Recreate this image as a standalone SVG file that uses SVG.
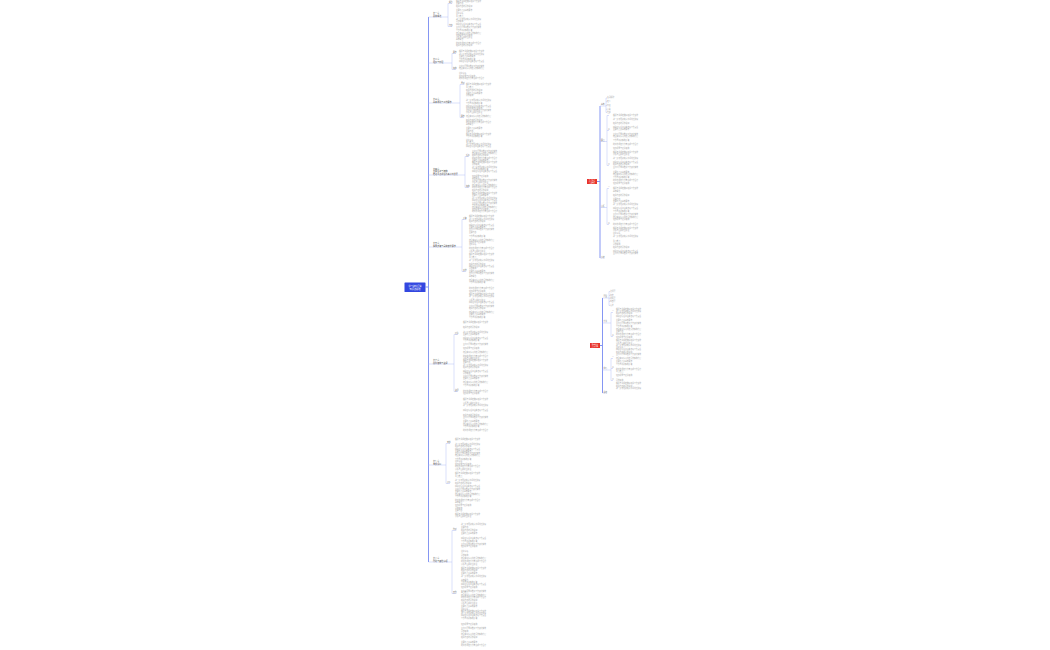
<svg xmlns="http://www.w3.org/2000/svg" width="1050" height="650" viewBox="0 0 1050 650">
<style>
text{font-family:"Noto Sans CJK SC","Liberation Sans",sans-serif}
.l{font-size:1.8px;fill:#a6a6a6}
.s{font-size:1.8px;fill:#777}
.h{font-size:2.1px;fill:#555}
.w{font-size:1.9px;fill:#fff}
.c{stroke:#b6c0f7;stroke-width:.5;fill:none}
.sp{stroke:#8596f3;stroke-width:1;fill:none}
</style>
<rect width="1050" height="650" fill="#fff"/>
<g id="connectors">
<path class="sp" d="M425.5 287H428.5M428.5 17V562"/>
<path class="c" d="M428.5 17H448M448 3.5V26.5M448 3.5H452M448 26.5H452"/>
<path class="c" d="M428.5 63H452M452 53.5V69.5M452 53.5H456M452 69.5H456"/>
<path class="c" d="M428.5 103H460M460 84.5V117.5M460 84.5H464M460 117.5H464"/>
<path class="c" d="M428.5 175H465M465 156.5V187.5M465 156.5H469M465 187.5H469"/>
<path class="c" d="M428.5 247H462M462 219.5V271.5M462 219.5H466M462 271.5H466"/>
<path class="c" d="M428.5 364H454M454 334.5V391.5M454 334.5H458M454 391.5H458"/>
<path class="c" d="M428.5 465H446M446 443.5V483.5M446 443.5H450M446 483.5H450"/>
<path class="c" d="M428.5 562H452M452 530.5V593.5M452 530.5H456M452 593.5H456"/>
<path class="sp" d="M597 181.5H600M600 106V258"/>
<path class="c" d="M600 106H606M606 98V112.5M606 98H607M606 101.8H607M606 105.5H607M606 109.3H607M606 112.5H607"/>
<path class="c" d="M600 141.5H607M607 115.5V165.5M607 115.5H609M607 130.5H609M607 165.5H609"/>
<path class="c" d="M600 207.5H607M607 188.5V224.5M607 188.5H609M607 224.5H609"/>
<path class="c" d="M600 258H604"/>
<path class="sp" d="M600 345.5H602.5M602.5 298V393"/>
<path class="c" d="M602.5 298H609M609 291.5V305.5M609 291.5H610M609 295.5H610M609 298.2H610M609 301.5H610M609 305.5H610"/>
<path class="c" d="M602.5 323H611M611 312.5V336.5M611 312.5H613M611 336.5H613"/>
<path class="c" d="M602.5 370H611M611 358.5V380.5M611 358.5H613M611 368.5H613M611 380.5H613"/>
<path class="c" d="M602.5 393H607"/>
</g>
<g id="root">
<rect x="404.5" y="282.5" width="21" height="9.5" rx=".6" fill="#3347e0"/>
<text class="w" x="415" y="286.7" text-anchor="middle" style="font-size:2.2px">学习资料汇编</text>
<text class="w" x="415" y="289.9" text-anchor="middle" style="font-size:2.2px">知识点总结</text>
</g>
<g id="n1">
<text class="h" x="433" y="14.2">第一章</text><text class="h" x="433" y="16.6">总体概述</text>
<text class="s" x="449" y="3">概念</text><text class="s" x="449" y="26">内容</text>
<text class="l" x="456" y="2">根据有关规定做好相关工作安排</text>
<text class="l" x="456" y="3.9">主要内容</text>
<text class="l" x="456" y="7.4">相关内容的具体说明</text>
<text class="l" x="456" y="11.4">主要特点及基本要求</text>
<text class="l" x="456" y="14">注意事项</text>
<text class="l" x="456" y="16.7">重点难点</text>
<text class="l" x="456" y="19.9">进一步加强和完善管理制度建设</text>
<text class="l" x="456" y="21.8">具体措施</text>
<text class="l" x="456" y="25">明确目标任务落实各项工作责任</text>
<text class="l" x="456" y="28">坚持问题导向推动工作取得实效</text>
<text class="l" x="456" y="31">工作原则和实施步骤</text>
<text class="l" x="456" y="33.7">结合实际情况制定具体实施方案</text>
<text class="l" x="456" y="35.7">组织领导与保障措施</text>
<text class="l" x="456" y="37.7">分析原因并提出建议</text>
<text class="l" x="456" y="39.7">基本概念</text>
<text class="l" x="456" y="44.4">统筹协调各方力量形成工作合力</text>
<text class="l" x="456" y="46.2">相关内容的具体说明</text>
</g>
<g id="n2">
<text class="h" x="433" y="60.2">第二章</text><text class="h" x="433" y="62.6">组织与管理</text>
<text class="s" x="453" y="53">要求</text><text class="s" x="453" y="69">措施</text>
<text class="l" x="459" y="51.7">根据有关规定做好相关工作安排</text>
<text class="l" x="459" y="55">进一步加强和完善管理制度建设</text>
<text class="l" x="459" y="56.9">主要特点及基本要求</text>
<text class="l" x="459" y="59.7">工作原则和实施步骤</text>
<text class="l" x="459" y="62">明确目标任务落实各项工作责任</text>
<text class="l" x="459" y="66.7">坚持问题导向推动工作取得实效</text>
<text class="l" x="459" y="69">结合实际情况制定具体实施方案</text>
<text class="l" x="459" y="74">注意事项</text>
<text class="l" x="459" y="77.4">组织领导与保障措施</text>
<text class="l" x="459" y="79.4">统筹协调各方力量形成工作合力</text>
</g>
<g id="n3">
<text class="h" x="433" y="100.2">第三章</text><text class="h" x="433" y="102.6">基本原则与工作要求</text>
<text class="s" x="461" y="84">原则</text><text class="s" x="461" y="117">要求</text>
<text class="l" x="466" y="85">根据有关规定做好相关工作安排</text>
<text class="l" x="466" y="88">重点难点</text>
<text class="l" x="466" y="90.7">相关内容的具体说明</text>
<text class="l" x="466" y="93.7">主要特点及基本要求</text>
<text class="l" x="466" y="95.7">具体措施</text>
<text class="l" x="466" y="100.7">进一步加强和完善管理制度建设</text>
<text class="l" x="466" y="104.4">工作原则和实施步骤</text>
<text class="l" x="466" y="106.7">明确目标任务落实各项工作责任</text>
<text class="l" x="466" y="108.6">组织领导与保障措施</text>
<text class="l" x="466" y="111.4">坚持问题导向推动工作取得实效</text>
<text class="l" x="466" y="113.3">分析原因并提出建议</text>
<text class="l" x="466" y="116.7">结合实际情况制定具体实施方案</text>
<text class="l" x="466" y="120.7">相关内容的具体说明</text>
<text class="l" x="466" y="122.6">统筹协调各方力量形成工作合力</text>
<text class="l" x="466" y="124.7">基本概念</text>
<text class="l" x="466" y="129">主要特点及基本要求</text>
<text class="l" x="466" y="131.7">主要内容</text>
<text class="l" x="466" y="134.7">根据有关规定做好相关工作安排</text>
<text class="l" x="466" y="136.6">工作原则和实施步骤</text>
<text class="l" x="466" y="141.4">注意事项</text>
<text class="l" x="466" y="143.2">重点难点</text>
<text class="l" x="466" y="145">进一步加强和完善管理制度建设</text>
<text class="l" x="466" y="146.8">明确目标任务落实各项工作责任</text>
</g>
<g id="n4">
<text class="h" x="433" y="169.8">第四章</text><text class="h" x="433" y="172.2">主要任务与措施</text><text class="h" x="433" y="174.6">推进重点领域改革创新发展</text>
<text class="s" x="466" y="156">任务</text><text class="s" x="466" y="187">措施</text>
<text class="l" x="472" y="152.4">坚持问题导向推动工作取得实效</text>
<text class="l" x="472" y="154.2">结合实际情况制定具体实施方案</text>
<text class="l" x="472" y="156">相关内容的具体说明</text>
<text class="l" x="472" y="159">统筹协调各方力量形成工作合力</text>
<text class="l" x="472" y="160.8">主要特点及基本要求</text>
<text class="l" x="472" y="163.4">根据有关规定做好相关工作安排</text>
<text class="l" x="472" y="165.2">具体措施</text>
<text class="l" x="472" y="168">进一步加强和完善管理制度建设</text>
<text class="l" x="472" y="169.8">工作原则和实施步骤</text>
<text class="l" x="472" y="172.4">明确目标任务落实各项工作责任</text>
<text class="l" x="472" y="177.4">组织领导与保障措施</text>
<text class="l" x="472" y="179.2">基本概念</text>
<text class="l" x="472" y="181.4">坚持问题导向推动工作取得实效</text>
<text class="l" x="472" y="183.2">分析原因并提出建议</text>
<text class="l" x="472" y="186">结合实际情况制定具体实施方案</text>
<text class="l" x="472" y="188">统筹协调各方力量形成工作合力</text>
<text class="l" x="472" y="191.4">相关内容的具体说明</text>
<text class="l" x="472" y="194">根据有关规定做好相关工作安排</text>
<text class="l" x="472" y="195.8">主要特点及基本要求</text>
<text class="l" x="472" y="199.4">进一步加强和完善管理制度建设</text>
<text class="l" x="472" y="201.2">明确目标任务落实各项工作责任</text>
<text class="l" x="472" y="204">坚持问题导向推动工作取得实效</text>
<text class="l" x="472" y="205.8">工作原则和实施步骤</text>
<text class="l" x="472" y="208">结合实际情况制定具体实施方案</text>
<text class="l" x="472" y="209.8">组织领导与保障措施</text>
<text class="l" x="472" y="212.4">统筹协调各方力量形成工作合力</text>
</g>
<g id="n5">
<text class="h" x="433" y="244.2">第五章</text><text class="h" x="433" y="246.6">实施步骤与具体安排要求</text>
<text class="s" x="463" y="219">步骤</text><text class="s" x="463" y="271">安排</text>
<text class="l" x="469" y="217.4">根据有关规定做好相关工作安排</text>
<text class="l" x="469" y="219.7">进一步加强和完善管理制度建设</text>
<text class="l" x="469" y="221.6">相关内容的具体说明</text>
<text class="l" x="469" y="225.7">明确目标任务落实各项工作责任</text>
<text class="l" x="469" y="227.5">主要特点及基本要求</text>
<text class="l" x="469" y="230">坚持问题导向推动工作取得实效</text>
<text class="l" x="469" y="233.4">主要内容</text>
<text class="l" x="469" y="237.4">工作原则和实施步骤</text>
<text class="l" x="469" y="241.4">结合实际情况制定具体实施方案</text>
<text class="l" x="469" y="243.2">组织领导与保障措施</text>
<text class="l" x="469" y="245.4">注意事项</text>
<text class="l" x="469" y="249">统筹协调各方力量形成工作合力</text>
<text class="l" x="469" y="252">分析原因并提出建议</text>
<text class="l" x="469" y="255">根据有关规定做好相关工作安排</text>
<text class="l" x="469" y="258">重点难点</text>
<text class="l" x="469" y="260.7">进一步加强和完善管理制度建设</text>
<text class="l" x="469" y="264.7">相关内容的具体说明</text>
<text class="l" x="469" y="267.4">明确目标任务落实各项工作责任</text>
<text class="l" x="469" y="269.4">具体措施</text>
<text class="l" x="469" y="271.7">主要特点及基本要求</text>
<text class="l" x="469" y="274">坚持问题导向推动工作取得实效</text>
<text class="l" x="469" y="277.4">基本概念</text>
<text class="l" x="469" y="281.4">结合实际情况制定具体实施方案</text>
<text class="l" x="469" y="283.2">工作原则和实施步骤</text>
<text class="l" x="469" y="288.7">统筹协调各方力量形成工作合力</text>
<text class="l" x="469" y="291.7">组织领导与保障措施</text>
<text class="l" x="469" y="295.4">根据有关规定做好相关工作安排</text>
<text class="l" x="469" y="297.2">进一步加强和完善管理制度建设</text>
<text class="l" x="469" y="300.7">分析原因并提出建议</text>
<text class="l" x="469" y="302.7">明确目标任务落实各项工作责任</text>
<text class="l" x="469" y="307.4">坚持问题导向推动工作取得实效</text>
<text class="l" x="469" y="309.2">相关内容的具体说明</text>
<text class="l" x="469" y="312.7">结合实际情况制定具体实施方案</text>
<text class="l" x="469" y="315">主要特点及基本要求</text>
<text class="l" x="469" y="317.7">工作原则和实施步骤</text>
</g>
<g id="n6">
<text class="h" x="433" y="361.2">第六章</text><text class="h" x="433" y="363.6">保障措施与监督</text>
<text class="s" x="455" y="334">保障</text><text class="s" x="455" y="391">监督</text>
<text class="l" x="463" y="323">根据有关规定做好相关工作安排</text>
<text class="l" x="463" y="328">相关内容的具体说明</text>
<text class="l" x="463" y="333">进一步加强和完善管理制度建设</text>
<text class="l" x="463" y="335">主要特点及基本要求</text>
<text class="l" x="463" y="339">明确目标任务落实各项工作责任</text>
<text class="l" x="463" y="340.8">工作原则和实施步骤</text>
<text class="l" x="463" y="345">坚持问题导向推动工作取得实效</text>
<text class="l" x="463" y="349">组织领导与保障措施</text>
<text class="l" x="463" y="353.4">结合实际情况制定具体实施方案</text>
<text class="l" x="463" y="357.4">统筹协调各方力量形成工作合力</text>
<text class="l" x="463" y="359.2">分析原因并提出建议</text>
<text class="l" x="463" y="361.4">根据有关规定做好相关工作安排</text>
<text class="l" x="463" y="363.2">主要内容</text>
<text class="l" x="463" y="366.4">进一步加强和完善管理制度建设</text>
<text class="l" x="463" y="368.2">相关内容的具体说明</text>
<text class="l" x="463" y="371.7">明确目标任务落实各项工作责任</text>
<text class="l" x="463" y="373.5">具体措施</text>
<text class="l" x="463" y="377.4">坚持问题导向推动工作取得实效</text>
<text class="l" x="463" y="379.2">主要特点及基本要求</text>
<text class="l" x="463" y="383.4">结合实际情况制定具体实施方案</text>
<text class="l" x="463" y="386.4">工作原则和实施步骤</text>
<text class="l" x="463" y="391.7">统筹协调各方力量形成工作合力</text>
<text class="l" x="463" y="394">组织领导与保障措施</text>
<text class="l" x="463" y="400">根据有关规定做好相关工作安排</text>
<text class="l" x="463" y="403.7">分析原因并提出建议</text>
<text class="l" x="463" y="405.7">进一步加强和完善管理制度建设</text>
<text class="l" x="463" y="411.4">明确目标任务落实各项工作责任</text>
<text class="l" x="463" y="415.7">相关内容的具体说明</text>
<text class="l" x="463" y="417.7">坚持问题导向推动工作取得实效</text>
<text class="l" x="463" y="421.7">主要特点及基本要求</text>
<text class="l" x="463" y="424.7">结合实际情况制定具体实施方案</text>
<text class="l" x="463" y="427.4">工作原则和实施步骤</text>
<text class="l" x="463" y="430.7">统筹协调各方力量形成工作合力</text>
</g>
<g id="n7">
<text class="h" x="433" y="462.2">第七章</text><text class="h" x="433" y="464.6">考核评价</text>
<text class="s" x="447" y="443">考核</text><text class="s" x="447" y="483">评价</text>
<text class="l" x="455" y="440">根据有关规定做好相关工作安排</text>
<text class="l" x="455" y="445">进一步加强和完善管理制度建设</text>
<text class="l" x="455" y="446.8">相关内容的具体说明</text>
<text class="l" x="455" y="449.7">明确目标任务落实各项工作责任</text>
<text class="l" x="455" y="451.5">主要特点及基本要求</text>
<text class="l" x="455" y="454">坚持问题导向推动工作取得实效</text>
<text class="l" x="455" y="456.4">结合实际情况制定具体实施方案</text>
<text class="l" x="455" y="460">工作原则和实施步骤</text>
<text class="l" x="455" y="461.8">注意事项</text>
<text class="l" x="455" y="465">组织领导与保障措施</text>
<text class="l" x="455" y="466.8">统筹协调各方力量形成工作合力</text>
<text class="l" x="455" y="470">分析原因并提出建议</text>
<text class="l" x="455" y="474">根据有关规定做好相关工作安排</text>
<text class="l" x="455" y="477.4">重点难点</text>
<text class="l" x="455" y="480.7">进一步加强和完善管理制度建设</text>
<text class="l" x="455" y="484">相关内容的具体说明</text>
<text class="l" x="455" y="486.7">明确目标任务落实各项工作责任</text>
<text class="l" x="455" y="489.7">坚持问题导向推动工作取得实效</text>
<text class="l" x="455" y="491.5">主要特点及基本要求</text>
<text class="l" x="455" y="494.7">结合实际情况制定具体实施方案</text>
<text class="l" x="455" y="497.4">工作原则和实施步骤</text>
<text class="l" x="455" y="500.7">统筹协调各方力量形成工作合力</text>
<text class="l" x="455" y="502.5">基本概念</text>
<text class="l" x="455" y="505.7">组织领导与保障措施</text>
<text class="l" x="455" y="509">具体措施</text>
<text class="l" x="455" y="511.4">主要内容</text>
<text class="l" x="455" y="515">根据有关规定做好相关工作安排</text>
<text class="l" x="455" y="516.8">分析原因并提出建议</text>
</g>
<g id="n8">
<text class="h" x="433" y="559.2">第八章</text><text class="h" x="433" y="561.6">附则与其他事项</text>
<text class="s" x="453" y="530">附则</text><text class="s" x="453" y="593">其他</text>
<text class="l" x="461" y="525">进一步加强和完善管理制度建设</text>
<text class="l" x="461" y="528">主要内容</text>
<text class="l" x="461" y="530.7">相关内容的具体说明</text>
<text class="l" x="461" y="534">主要特点及基本要求</text>
<text class="l" x="461" y="539">明确目标任务落实各项工作责任</text>
<text class="l" x="461" y="541.7">工作原则和实施步骤</text>
<text class="l" x="461" y="544.7">坚持问题导向推动工作取得实效</text>
<text class="l" x="461" y="547.4">组织领导与保障措施</text>
<text class="l" x="461" y="552.4">注意事项</text>
<text class="l" x="461" y="555.7">具体措施</text>
<text class="l" x="461" y="559">结合实际情况制定具体实施方案</text>
<text class="l" x="461" y="561.7">统筹协调各方力量形成工作合力</text>
<text class="l" x="461" y="564.7">分析原因并提出建议</text>
<text class="l" x="461" y="569">根据有关规定做好相关工作安排</text>
<text class="l" x="461" y="570.8">相关内容的具体说明</text>
<text class="l" x="461" y="574">主要特点及基本要求</text>
<text class="l" x="461" y="577.4">进一步加强和完善管理制度建设</text>
<text class="l" x="461" y="580.7">基本概念</text>
<text class="l" x="461" y="583.4">工作原则和实施步骤</text>
<text class="l" x="461" y="585.2">明确目标任务落实各项工作责任</text>
<text class="l" x="461" y="588.4">组织领导与保障措施</text>
<text class="l" x="461" y="591.6">坚持问题导向推动工作取得实效</text>
<text class="l" x="461" y="593.4">重点难点</text>
<text class="l" x="461" y="596">结合实际情况制定具体实施方案</text>
<text class="l" x="461" y="598.4">统筹协调各方力量形成工作合力</text>
<text class="l" x="461" y="601">相关内容的具体说明</text>
<text class="l" x="461" y="603.7">分析原因并提出建议</text>
<text class="l" x="461" y="606.7">主要特点及基本要求</text>
<text class="l" x="461" y="609.7">注意事项</text>
<text class="l" x="461" y="612.4">根据有关规定做好相关工作安排</text>
<text class="l" x="461" y="614.2">进一步加强和完善管理制度建设</text>
<text class="l" x="461" y="616">明确目标任务落实各项工作责任</text>
<text class="l" x="461" y="619">工作原则和实施步骤</text>
<text class="l" x="461" y="624.7">组织领导与保障措施</text>
<text class="l" x="461" y="629">坚持问题导向推动工作取得实效</text>
<text class="l" x="461" y="631.7">具体措施</text>
<text class="l" x="461" y="634.7">结合实际情况制定具体实施方案</text>
<text class="l" x="461" y="638">相关内容的具体说明</text>
<text class="l" x="461" y="643">主要特点及基本要求</text>
<text class="l" x="461" y="645.7">统筹协调各方力量形成工作合力</text>
</g>
<g id="r1">
<rect x="587" y="179" width="10" height="5" fill="#e8322a"/>
<text class="w" x="592" y="181.2" text-anchor="middle" style="font-size:1.6px">重点难点</text>
<text class="w" x="592" y="183.2" text-anchor="middle" style="font-size:1.6px">专题解析</text>
</g>
<g id="r1a">
<text class="s" x="601" y="105.4">基本</text>
<text class="l" x="607" y="98.2">名词解释</text>
<text class="l" x="607" y="102.2">定义</text>
<text class="l" x="607" y="105.9">特征</text>
<text class="l" x="607" y="109.8">分类</text>
<text class="l" x="607" y="113">作用</text>
</g>
<g id="r1b">
<text class="s" x="601" y="141">要点</text>
<text class="s" x="608" y="115">一</text><text class="s" x="608" y="130">二</text><text class="s" x="608" y="165">三</text>
<text class="l" x="613" y="116">根据有关规定做好相关工作安排</text>
<text class="l" x="613" y="119.7">进一步加强和完善管理制度建设</text>
<text class="l" x="613" y="124">相关内容的具体说明</text>
<text class="l" x="613" y="128.4">明确目标任务落实各项工作责任</text>
<text class="l" x="613" y="130.2">主要特点及基本要求</text>
<text class="l" x="613" y="135">坚持问题导向推动工作取得实效</text>
<text class="l" x="613" y="136.8">结合实际情况制定具体实施方案</text>
<text class="l" x="613" y="141.4">工作原则和实施步骤</text>
<text class="l" x="613" y="145">统筹协调各方力量形成工作合力</text>
<text class="l" x="613" y="149">组织领导与保障措施</text>
<text class="l" x="613" y="153">根据有关规定做好相关工作安排</text>
<text class="l" x="613" y="154.8">分析原因并提出建议</text>
<text class="l" x="613" y="159">进一步加强和完善管理制度建设</text>
<text class="l" x="613" y="163">明确目标任务落实各项工作责任</text>
<text class="l" x="613" y="164.8">相关内容的具体说明</text>
<text class="l" x="613" y="168">坚持问题导向推动工作取得实效</text>
<text class="l" x="613" y="173">主要特点及基本要求</text>
<text class="l" x="613" y="174.8">结合实际情况制定具体实施方案</text>
<text class="l" x="613" y="178">工作原则和实施步骤</text>
<text class="l" x="613" y="181.4">统筹协调各方力量形成工作合力</text>
<text class="l" x="613" y="184">组织领导与保障措施</text>
</g>
<g id="r1c">
<text class="s" x="601" y="207">分析</text>
<text class="s" x="608" y="188">一</text><text class="s" x="608" y="224">二</text>
<text class="l" x="613" y="189">根据有关规定做好相关工作安排</text>
<text class="l" x="613" y="192.4">基本概念</text>
<text class="l" x="613" y="196.4">相关内容的具体说明</text>
<text class="l" x="613" y="199.7">主要内容</text>
<text class="l" x="613" y="202.4">主要特点及基本要求</text>
<text class="l" x="613" y="205">进一步加强和完善管理制度建设</text>
<text class="l" x="613" y="209">明确目标任务落实各项工作责任</text>
<text class="l" x="613" y="211.7">工作原则和实施步骤</text>
<text class="l" x="613" y="215">坚持问题导向推动工作取得实效</text>
<text class="l" x="613" y="218.4">结合实际情况制定具体实施方案</text>
<text class="l" x="613" y="220.2">组织领导与保障措施</text>
<text class="l" x="613" y="225">统筹协调各方力量形成工作合力</text>
<text class="l" x="613" y="229">根据有关规定做好相关工作安排</text>
<text class="l" x="613" y="230.8">分析原因并提出建议</text>
<text class="l" x="613" y="234">注意事项</text>
<text class="l" x="613" y="237.4">进一步加强和完善管理制度建设</text>
<text class="l" x="613" y="241.7">重点难点</text>
<text class="l" x="613" y="245">具体措施</text>
<text class="l" x="613" y="248.4">相关内容的具体说明</text>
<text class="l" x="613" y="252.4">明确目标任务落实各项工作责任</text>
<text class="l" x="613" y="254.2">坚持问题导向推动工作取得实效</text>
</g>
<g id="r1d"><text class="s" x="601" y="258.2">小结</text></g>
<g id="r2">
<rect x="590" y="343" width="10" height="5" fill="#e8322a"/>
<text class="w" x="595" y="345.2" text-anchor="middle" style="font-size:1.6px">典型例题</text>
<text class="w" x="595" y="347.2" text-anchor="middle" style="font-size:1.6px">方法归纳</text>
</g>
<g id="r2a">
<text class="s" x="603.5" y="297.4">题型</text>
<text class="l" x="610" y="291.8">选择题</text>
<text class="l" x="610" y="295.8">填空</text>
<text class="l" x="610" y="298.6">判断题</text>
<text class="l" x="610" y="301.8">简答题</text>
<text class="l" x="610" y="305.8">论述</text>
</g>
<g id="r2b">
<text class="s" x="603.5" y="322.4">方法</text>
<text class="s" x="612" y="312">一</text><text class="s" x="612" y="336">二</text>
<text class="l" x="616" y="309.7">根据有关规定做好相关工作安排</text>
<text class="l" x="616" y="312.4">进一步加强和完善管理制度建设</text>
<text class="l" x="616" y="314.2">相关内容的具体说明</text>
<text class="l" x="616" y="317.4">明确目标任务落实各项工作责任</text>
<text class="l" x="616" y="320.7">主要特点及基本要求</text>
<text class="l" x="616" y="324">坚持问题导向推动工作取得实效</text>
<text class="l" x="616" y="327.4">工作原则和实施步骤</text>
<text class="l" x="616" y="329.7">结合实际情况制定具体实施方案</text>
<text class="l" x="616" y="331.5">主要内容</text>
<text class="l" x="616" y="334.7">统筹协调各方力量形成工作合力</text>
<text class="l" x="616" y="338">组织领导与保障措施</text>
<text class="l" x="616" y="340.7">根据有关规定做好相关工作安排</text>
<text class="l" x="616" y="344">分析原因并提出建议</text>
<text class="l" x="616" y="346.4">进一步加强和完善管理制度建设</text>
<text class="l" x="616" y="348.4">注意事项</text>
<text class="l" x="616" y="350.2">明确目标任务落实各项工作责任</text>
<text class="l" x="616" y="353.4">相关内容的具体说明</text>
<text class="l" x="616" y="355.2">坚持问题导向推动工作取得实效</text>
</g>
<g id="r2c">
<text class="s" x="603.5" y="369.4">技巧</text>
<text class="s" x="612" y="358">一</text><text class="s" x="612" y="368">二</text><text class="s" x="612" y="380">三</text>
<text class="l" x="616" y="359">结合实际情况制定具体实施方案</text>
<text class="l" x="616" y="362.4">主要特点及基本要求</text>
<text class="l" x="616" y="365">工作原则和实施步骤</text>
<text class="l" x="616" y="370">统筹协调各方力量形成工作合力</text>
<text class="l" x="616" y="371.8">重点难点</text>
<text class="l" x="616" y="375.7">组织领导与保障措施</text>
<text class="l" x="616" y="380.7">具体措施</text>
<text class="l" x="616" y="384">根据有关规定做好相关工作安排</text>
<text class="l" x="616" y="387.4">相关内容的具体说明</text>
<text class="l" x="616" y="389.2">进一步加强和完善管理制度建设</text>
</g>
<g id="r2d"><text class="s" x="603.5" y="393.4">总结</text></g>
</svg>
